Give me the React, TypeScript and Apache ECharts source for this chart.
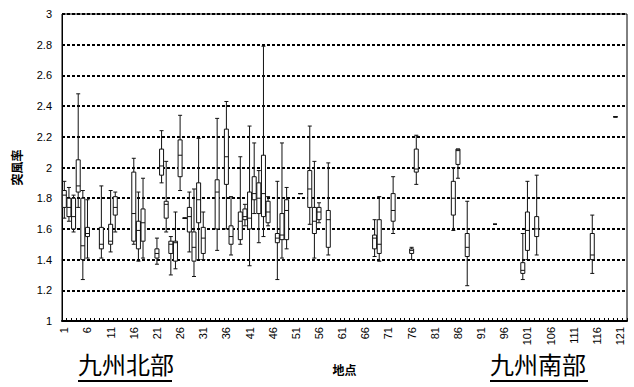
import React, { useEffect, useRef } from "react";
import * as echarts from "echarts";

const stationCount = 122;
const categories: string[] = Array.from({ length: stationCount }, (_, i) => String(i + 1));

const stations = [1, 2, 3, 4, 5, 6, 9, 11, 12, 16, 17, 18, 21, 22, 23, 24, 25, 26, 27, 28, 29, 30, 31, 34, 36, 37, 39, 40, 41, 42, 43, 44, 45, 47, 48, 49, 52, 54, 55, 56, 58, 68, 69, 72, 76, 77, 85, 86, 88, 94, 100, 101, 103, 115, 120];
const mins = [1.67, 1.65, 1.58, 1.74, 1.27, 1.41, 1.41, 1.45, 1.58, 1.50, 1.39, 1.41, 1.37, 1.90, 1.58, 1.30, 1.34, 1.85, 1.67, 1.45, 1.29, 1.40, 1.40, 1.46, 1.60, 1.43, 1.50, 1.62, 1.36, 1.70, 1.51, 1.55, 1.62, 1.27, 1.41, 1.47, 1.83, 1.63, 1.41, 1.64, 1.43, 1.42, 1.39, 1.57, 1.40, 1.89, 1.59, 1.93, 1.23, 1.63, 1.27, 1.40, 1.43, 1.31, 2.33];
const q1s = [1.74, 1.68, 1.60, 1.84, 1.40, 1.55, 1.47, 1.50, 1.69, 1.52, 1.47, 1.52, 1.41, 1.95, 1.67, 1.44, 1.39, 1.94, 1.67, 1.58, 1.39, 1.64, 1.44, 1.60, 1.89, 1.50, 1.53, 1.66, 1.60, 1.79, 1.70, 1.68, 1.64, 1.51, 1.53, 1.53, 1.83, 1.74, 1.57, 1.66, 1.48, 1.47, 1.44, 1.65, 1.44, 1.97, 1.69, 2.02, 1.42, 1.63, 1.31, 1.46, 1.55, 1.40, 2.33];
const medians = [1.82, 1.74, 1.68, 1.88, 1.49, 1.57, 1.50, 1.52, 1.74, 1.70, 1.59, 1.64, 1.44, 2.01, 1.76, 1.50, 1.51, 2.08, 1.67, 1.68, 1.48, 1.79, 1.54, 1.84, 2.07, 1.55, 1.65, 1.68, 1.67, 1.83, 1.80, 1.83, 1.71, 1.54, 1.56, 1.72, 1.83, 1.86, 1.65, 1.71, 1.66, 1.54, 1.50, 1.72, 1.46, 1.99, 1.80, 2.11, 1.48, 1.63, 1.33, 1.59, 1.60, 1.43, 2.33];
const q3s = [1.85, 1.80, 1.80, 2.05, 1.80, 1.61, 1.61, 1.63, 1.81, 1.97, 1.65, 1.73, 1.47, 2.12, 1.78, 1.52, 1.52, 2.18, 1.67, 1.74, 1.58, 1.90, 1.61, 1.92, 2.25, 1.62, 1.71, 1.73, 1.84, 1.94, 1.90, 2.08, 1.78, 1.57, 1.70, 1.79, 1.83, 1.98, 1.74, 1.74, 1.72, 1.56, 1.66, 1.83, 1.47, 2.12, 1.91, 2.12, 1.57, 1.63, 1.38, 1.71, 1.68, 1.57, 2.33];
const maxs = [1.91, 1.87, 1.82, 2.48, 1.85, 1.79, 1.88, 1.85, 1.84, 2.06, 1.84, 1.93, 1.54, 2.24, 2.04, 1.55, 1.71, 2.34, 1.67, 1.84, 1.86, 2.19, 1.71, 2.32, 2.43, 1.81, 2.07, 1.76, 2.27, 2.16, 1.98, 2.79, 1.81, 1.91, 2.16, 1.87, 1.83, 2.27, 2.04, 1.77, 2.03, 1.66, 1.81, 1.94, 1.48, 2.21, 2.00, 2.12, 1.78, 1.63, 1.57, 1.91, 1.95, 1.69, 2.33];

const yTicksMin = 1;
const yTicksMax = 3;
const yTickStep = 0.2;

const regionLabels = ["九州北部", "九州南部"];
const xAxisTitle = "地点";
const yAxisTitle = "突風率";

export default function App() {
  const ref = useRef<HTMLDivElement>(null);
  useEffect(() => {
    if (!ref.current) return;
    const chart = echarts.init(ref.current, undefined, { renderer: "svg" });
    const boxData = categories.map((c) => {
      const i = stations.indexOf(Number(c));
      if (i < 0) return ["-", "-", "-", "-", "-"];
      return [mins[i], q1s[i], medians[i], q3s[i], maxs[i]];
    });
    const axisFont = "'Liberation Sans', Arial, sans-serif";
    const cjkFont = "'Noto Sans CJK JP', sans-serif";
    chart.setOption({
      animation: false,
      grid: {
        left: 62,
        right: 7,
        top: 14,
        bottom: 66,
        show: true,
        borderColor: "#000",
        borderWidth: 1,
        backgroundColor: "#fff",
      },
      xAxis: {
        type: "category",
        data: categories,
        boundaryGap: true,
        name: xAxisTitle,
        nameLocation: "middle",
        nameGap: 42,
        nameTextStyle: { fontFamily: cjkFont, fontSize: 12, fontWeight: "bold", color: "#000" },
        axisLine: { show: true, lineStyle: { color: "#000", width: 2 } },
        axisTick: { show: true, inside: true, interval: 0, length: 3, lineStyle: { color: "#000" } },
        axisLabel: {
          interval: 4,
          rotate: 90,
          margin: 6,
          fontSize: 11,
          fontFamily: axisFont,
          color: "#000",
        },
        splitLine: { show: false },
      },
      yAxis: {
        type: "value",
        min: yTicksMin,
        max: yTicksMax,
        interval: yTickStep,
        name: yAxisTitle,
        nameLocation: "middle",
        nameGap: 40,
        nameRotate: 90,
        nameTextStyle: { fontFamily: cjkFont, fontSize: 12, fontWeight: "bold", color: "#000" },
        axisLine: { show: true, lineStyle: { color: "#000", width: 1 } },
        axisTick: { show: false },
        axisLabel: { fontSize: 11, fontFamily: axisFont, color: "#000", margin: 10 },
        splitLine: { show: true, lineStyle: { color: "#000", width: 2, type: [3, 2] } },
      },
      series: [
        {
          type: "boxplot",
          data: boxData,
          boxWidth: [4, 4],
          itemStyle: { color: "#fff", borderColor: "#111", borderWidth: 1 },
          emphasis: { disabled: true },
          silent: true,
        },
      ],
      graphic: [
        {
          type: "text",
          left: 78,
          top: 351,
          style: { text: regionLabels[0], font: `24px ${cjkFont}`, fill: "#000" },
        },
        { type: "line", shape: { x1: 78, y1: 381, x2: 172, y2: 381 }, style: { stroke: "#000", lineWidth: 2 } },
        {
          type: "text",
          left: 490,
          top: 351,
          style: { text: regionLabels[1], font: `24px ${cjkFont}`, fill: "#000" },
        },
        { type: "line", shape: { x1: 490, y1: 381, x2: 588, y2: 381 }, style: { stroke: "#000", lineWidth: 2 } },
      ],
    });
    return () => chart.dispose();
  }, []);
  return (
    <div
      ref={ref}
      style={{ position: "fixed", left: 0, top: 0, width: 634, height: 387, background: "#fff" }}
    />
  );
}
